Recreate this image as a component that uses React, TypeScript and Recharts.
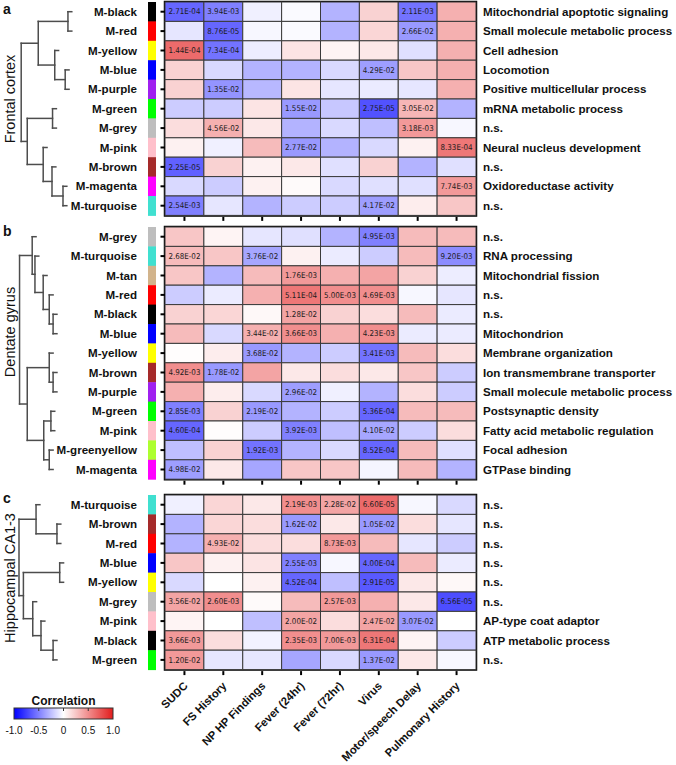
import React from 'react';
import { ScatterChart, Scatter, XAxis, YAxis, ReferenceArea, ReferenceLine } from 'recharts';

const traits = ['SUDC', 'FS History', 'NP HP Findings', 'Fever (24hr)', 'Fever (72hr)', 'Virus', 'Motor/speech Delay', 'Pulmonary History'];

const moduleColors: Record<string, string> = {
  'M-black': '#000000', 'M-red': '#ff0000', 'M-yellow': '#ffff00', 'M-blue': '#0000ff',
  'M-purple': '#a020f0', 'M-green': '#00ff00', 'M-grey': '#bebebe', 'M-pink': '#ffc0cb',
  'M-brown': '#a52a2a', 'M-magenta': '#ff00ff', 'M-turquoise': '#40e0d0', 'M-tan': '#d2b48c',
  'M-greenyellow': '#adff2f',
};

// (a) frontal cortex
const frontalModules = ['M-black', 'M-red', 'M-yellow', 'M-blue', 'M-purple', 'M-green', 'M-grey', 'M-pink', 'M-brown', 'M-magenta', 'M-turquoise'];
const frontalTerms = ['Mitochondrial apoptotic signaling', 'Small molecule metabolic process', 'Cell adhesion', 'Locomotion', 'Positive multicellular process', 'mRNA metabolic process', 'n.s.', 'Neural nucleus development', 'n.s.', 'Oxidoreductase activity', 'n.s.'];
const frontalCorr = [
  [-0.6, -0.5, -0.06, -0.02, -0.3, 0.2, -0.55, 0.35],
  [-0.1, -0.6, -0.03, -0.02, -0.3, 0.18, -0.4, 0.35],
  [0.65, -0.55, -0.07, 0.12, 0.05, 0.1, -0.12, 0.35],
  [0.2, -0.15, -0.3, -0.3, -0.15, -0.38, 0.25, 0.35],
  [0.2, -0.42, -0.28, 0.12, -0.1, -0.08, -0.1, 0.35],
  [-0.2, -0.2, 0.12, -0.4, -0.22, -0.68, 0.32, -0.3],
  [0.15, 0.35, 0.1, -0.3, -0.15, -0.25, 0.45, -0.03],
  [0.06, -0.06, 0.3, -0.4, -0.3, -0.15, 0.06, 0.6],
  [-0.62, 0.2, 0.06, 0.1, -0.12, 0.2, -0.3, -0.12],
  [-0.15, -0.2, 0.06, 0.02, -0.15, -0.12, -0.12, 0.45],
  [-0.5, -0.1, -0.3, -0.2, -0.2, -0.38, 0.08, 0.25],
];
const frontalP = [
  ['2.71E-04', '3.94E-03', '', '', '', '', '2.11E-03', ''],
  ['', '8.76E-05', '', '', '', '', '2.66E-02', ''],
  ['1.44E-04', '7.34E-04', '', '', '', '', '', ''],
  ['', '', '', '', '', '4.29E-02', '', ''],
  ['', '1.35E-02', '', '', '', '', '', ''],
  ['', '', '', '1.55E-02', '', '2.75E-05', '3.05E-02', ''],
  ['', '4.56E-02', '', '', '', '', '3.18E-03', ''],
  ['', '', '', '2.77E-02', '', '', '', '8.33E-04'],
  ['2.25E-05', '', '', '', '', '', '', ''],
  ['', '', '', '', '', '', '', '7.74E-03'],
  ['2.54E-03', '', '', '', '', '4.17E-02', '', ''],
];
const frontalTree: Tree = [0.96, [0.65, [0.11, 0, 1], [0.35, 2, [0.16, 3, 4]]], [0.85, [0.39, 5, 6], [0.56, 7, [0.4, 8, [0.2, 9, 10]]]]];

// (b) dentate gyrus
const dentateModules = ['M-grey', 'M-turquoise', 'M-tan', 'M-red', 'M-black', 'M-blue', 'M-yellow', 'M-brown', 'M-purple', 'M-green', 'M-pink', 'M-greenyellow', 'M-magenta'];
const dentateTerms = ['n.s.', 'RNA processing', 'Mitochondrial fission', 'n.s.', 'n.s.', 'Mitochondrion', 'Membrane organization', 'Ion transmembrane transporter', 'Small molecule metabolic process', 'Postsynaptic density', 'Fatty acid metabolic regulation', 'Focal adhesion', 'GTPase binding'];
const dentateCorr = [
  [0.25, 0.05, -0.1, -0.12, -0.3, -0.5, 0.3, 0.3],
  [0.3, 0.25, -0.35, 0.06, -0.08, -0.2, 0.3, -0.45],
  [0.25, -0.3, 0.3, 0.45, 0.35, 0.4, 0.2, -0.07],
  [-0.2, -0.08, 0.35, 0.6, 0.5, 0.5, -0.03, -0.1],
  [0.2, 0.18, 0.03, 0.4, 0.2, 0.15, 0.3, -0.08],
  [0.3, -0.15, 0.35, 0.5, 0.35, 0.5, -0.08, -0.08],
  [0.01, 0.08, -0.4, -0.3, -0.2, -0.55, 0.3, 0.15],
  [0.5, -0.4, 0.4, 0.1, 0.15, 0.1, 0.25, -0.2],
  [0.35, 0.08, -0.15, -0.38, -0.06, -0.3, 0.15, -0.2],
  [-0.5, 0.2, -0.4, -0.3, -0.2, -0.6, 0.3, 0.3],
  [-0.6, 0.01, -0.2, -0.5, -0.25, -0.35, -0.2, 0.15],
  [-0.25, 0.2, -0.55, -0.3, -0.15, -0.6, 0.3, -0.12],
  [-0.38, 0.1, -0.35, 0.25, 0.25, -0.04, 0.3, -0.3],
];
const dentateP = [
  ['', '', '', '', '', '4.95E-03', '', ''],
  ['2.68E-02', '', '3.76E-02', '', '', '', '', '9.20E-03'],
  ['', '', '', '1.76E-03', '', '', '', ''],
  ['', '', '', '5.11E-04', '5.00E-03', '4.69E-03', '', ''],
  ['', '', '', '1.28E-02', '', '', '', ''],
  ['', '', '3.44E-02', '3.66E-03', '', '4.23E-03', '', ''],
  ['', '', '3.68E-02', '', '', '3.41E-03', '', ''],
  ['4.92E-03', '1.78E-02', '', '', '', '', '', ''],
  ['', '', '', '2.96E-02', '', '', '', ''],
  ['2.85E-03', '', '2.19E-02', '', '', '5.36E-04', '', ''],
  ['4.60E-04', '', '', '3.92E-03', '', '4.10E-02', '', ''],
  ['', '', '1.92E-03', '', '', '8.52E-04', '', ''],
  ['4.98E-02', '', '', '', '', '', '', ''],
];
const dentateTree: Tree = [0.99, [0.76, 0, [0.71, 1, [0.56, 2, [0.45, 3, [0.38, 4, 5]]]]], [0.85, [0.45, 6, [0.38, 7, 8]], [0.55, [0.42, 9, 10], [0.45, 11, 12]]]];

// (c) hippocampal CA1-3
const hippoModules = ['M-turquoise', 'M-brown', 'M-red', 'M-blue', 'M-yellow', 'M-grey', 'M-pink', 'M-black', 'M-green'];
const hippoTerms = ['n.s.', 'n.s.', 'n.s.', 'n.s.', 'n.s.', 'n.s.', 'AP-type coat adaptor', 'ATP metabolic process', 'n.s.'];
const hippoCorr = [
  [-0.06, 0.18, 0.1, 0.5, 0.4, 0.65, -0.03, -0.15],
  [-0.3, 0.18, 0.15, -0.4, 0.1, -0.4, 0.15, -0.1],
  [-0.3, 0.35, 0.15, 0.15, 0.45, 0.3, -0.1, -0.2],
  [0.25, 0.06, 0.12, -0.5, -0.03, -0.6, 0.3, -0.08],
  [-0.15, 0.0, 0.06, -0.6, -0.25, -0.65, 0.1, 0.03],
  [0.4, 0.5, 0.02, 0.3, 0.45, 0.35, 0.1, -0.7],
  [0.05, 0.0, -0.25, 0.4, 0.15, 0.4, -0.4, 0.0],
  [0.45, 0.15, -0.05, 0.5, 0.45, 0.6, 0.05, -0.2],
  [0.45, -0.1, -0.1, -0.35, -0.15, -0.4, 0.1, -0.03],
];
const hippoP = [
  ['', '', '', '2.19E-03', '2.28E-02', '6.60E-05', '', ''],
  ['', '', '', '1.62E-02', '', '1.05E-02', '', ''],
  ['', '4.93E-02', '', '', '8.73E-03', '', '', ''],
  ['', '', '', '2.55E-03', '', '4.00E-04', '', ''],
  ['', '', '', '4.52E-04', '', '2.91E-05', '', ''],
  ['3.56E-02', '2.60E-03', '', '', '2.57E-03', '', '', '6.56E-05'],
  ['', '', '', '2.00E-02', '', '2.47E-02', '3.07E-02', ''],
  ['3.66E-03', '', '', '2.35E-03', '7.00E-03', '6.31E-04', '', ''],
  ['1.20E-02', '', '', '', '', '1.37E-02', '', ''],
];
const hippoTree: Tree = [1.0, [0.69, 0, [0.31, 1, 2]], [0.92, [0.26, 3, 4], [0.75, 5, [0.6, 6, [0.38, 7, 8]]]]];

const legendTicks = [-1, -0.5, 0, 0.5, 1];

type Tree = number | [number, Tree, Tree];

const FONT = '"Liberation Sans", Arial, Helvetica, sans-serif';
const CELL_FONT = '"DejaVu Sans Condensed", "Liberation Sans Narrow", "Liberation Sans", Arial, sans-serif';
const ROW_H = 19.4;
const PLOT_L = 165;
const PLOT_R = 476;
const COL_W = (PLOT_R - PLOT_L) / traits.length;
const STUB = 0.07;
const RED_END = [226, 28, 28];

function corrColor(v: number) {
  if (v < 0) {
    const t = Math.min(1, -v);
    const c = Math.round(255 * (1 - t));
    return `rgb(${c},${c},255)`;
  }
  const t = Math.min(1, v);
  const mix = (e: number) => Math.round(255 + (e - 255) * t);
  return `rgb(${mix(RED_END[0])},${mix(RED_END[1])},${mix(RED_END[2])})`;
}

function buildDendro(t: Tree, out: number[][]): { y: number; h: number } {
  if (typeof t === 'number') return { y: t + 0.5, h: -1 };
  const [h, a, b] = t;
  const A = buildDendro(a, out);
  const B = buildDendro(b, out);
  const ha = A.h < 0 ? h - STUB : A.h;
  const hb = B.h < 0 ? h - STUB : B.h;
  out.push([h, A.y, h, B.y]);
  out.push([h, A.y, ha, A.y]);
  out.push([h, B.y, hb, B.y]);
  return { y: (A.y + B.y) / 2, h };
}

const HeatCell = (props: any) => {
  const { cx, cy, payload } = props;
  return (
    <g>
      <rect x={cx - COL_W / 2} y={cy - ROW_H / 2} width={COL_W} height={ROW_H} fill={corrColor(payload.r)} stroke="#3a3a3a" strokeWidth={1} />
      {payload.p ? (
        <text x={cx} y={cy + 2.8} textAnchor="middle" fontSize={8} fontFamily={CELL_FONT} fill="#1c1c1c" textLength={32} lengthAdjust="spacingAndGlyphs">
          {payload.p}
        </text>
      ) : null}
    </g>
  );
};

function RowTick(props: any) {
  const { y, payload, modules, terms } = props;
  const i = Math.floor(payload.value);
  return (
    <g>
      <text x={137} y={y} dy={4.2} textAnchor="end" fontFamily={FONT} fontWeight="bold" fontSize={11.6} fill="#111">
        {modules[i]}
      </text>
      <rect x={148} y={y - ROW_H / 2} width={8} height={ROW_H + 0.5} fill={moduleColors[modules[i]]} />
      <line x1={160.5} x2={165} y1={y} y2={y} stroke="#000" strokeWidth={2} />
      <text x={483} y={y} dy={4.2} textAnchor="start" fontFamily={FONT} fontWeight="bold" fontSize={11.6} fill="#111">
        {terms[i]}
      </text>
    </g>
  );
}

function ColTick(props: any) {
  const { x, y, payload, showLabel } = props;
  const j = Math.floor(payload.value);
  const lx = x + 4;
  const ly = y + 17;
  return (
    <g>
      <line x1={x} x2={x} y1={y + 1.5} y2={y + 5.5} stroke="#000" strokeWidth={2} />
      {showLabel ? (
        <text x={lx} y={ly} transform={`rotate(-45 ${lx} ${ly})`} textAnchor="end" fontFamily={FONT} fontWeight="bold" fontSize={11.3} fill="#111">
          {traits[j]}
        </text>
      ) : null}
    </g>
  );
}

interface PanelProps {
  top: number;
  modules: string[];
  terms: string[];
  corr: number[][];
  pvals: string[][];
  tree: Tree;
  showLabels: boolean;
}

function HeatPanel({ top, modules, terms, corr, pvals, tree, showLabels }: PanelProps) {
  const n = modules.length;
  const mTop = 2;
  const mBottom = showLabels ? 95 : 8;
  const height = mTop + n * ROW_H + mBottom;
  const cells: { x: number; y: number; r: number; p: string }[] = [];
  corr.forEach((row, i) => row.forEach((r, j) => cells.push({ x: j + 0.5, y: i + 0.5, r, p: pvals[i][j] })));
  const rowTicks = modules.map((_, i) => i + 0.5);
  const colTicks = traits.map((_, j) => j + 0.5);
  const segs: number[][] = [];
  buildDendro(tree, segs);
  const leaves = modules.map((_, i) => ({ h: 0, y: i + 0.5 }));

  return (
    <>
      <div style={{ position: 'absolute', left: 0, top: top - mTop }}>
        <ScatterChart width={676} height={height} margin={{ top: mTop, right: 676 - PLOT_R, bottom: 0, left: 0 }}>
          <XAxis
            type="number"
            dataKey="x"
            domain={[0, traits.length]}
            ticks={colTicks}
            interval={0}
            axisLine={false}
            tickLine={false}
            tickSize={0}
            tickMargin={0}
            height={mBottom}
            tick={(p: any) => <ColTick {...p} showLabel={showLabels} />}
          />
          <YAxis
            yAxisId="l"
            type="number"
            dataKey="y"
            domain={[0, n]}
            reversed
            ticks={rowTicks}
            interval={0}
            axisLine={false}
            tickLine={false}
            tickSize={0}
            tickMargin={0}
            width={PLOT_L}
            tick={(p: any) => <RowTick {...p} modules={modules} terms={terms} />}
          />
          <Scatter yAxisId="l" data={cells} isAnimationActive={false} shape={HeatCell} />
          <ReferenceArea yAxisId="l" x1={0} x2={traits.length} y1={0} y2={n} fill="none" stroke="#000" strokeWidth={2.5} ifOverflow="visible" />
        </ScatterChart>
      </div>
      <div style={{ position: 'absolute', left: 0, top: top - mTop }}>
        <ScatterChart width={80} height={height} margin={{ top: mTop, right: 6, bottom: mBottom, left: 19 }}>
          <XAxis type="number" dataKey="h" domain={[0, 1]} reversed hide />
          <YAxis type="number" dataKey="y" domain={[0, n]} reversed hide />
          <Scatter data={leaves} isAnimationActive={false} shape={() => <g />} />
          {segs.map((s, k) => (
            <ReferenceLine
              key={k}
              segment={[{ x: s[0], y: s[1] }, { x: s[2], y: s[3] }]}
              stroke="#4d4d4d"
              strokeWidth={1.5}
              strokeLinecap="square"
              ifOverflow="visible"
            />
          ))}
        </ScatterChart>
      </div>
    </>
  );
}

function Overlay() {
  const barL = 14;
  const barR = 113;
  const pos = (v: number) => barL + ((v + 1) / 2) * (barR - barL);
  return (
    <svg width={676} height={765} style={{ position: 'absolute', left: 0, top: 0, pointerEvents: 'none' }}>
      <defs>
        <linearGradient id="corrGrad" x1="0" x2="1" y1="0" y2="0">
          <stop offset="0" stopColor={corrColor(-1)} />
          <stop offset="0.5" stopColor={corrColor(0)} />
          <stop offset="1" stopColor={corrColor(1)} />
        </linearGradient>
      </defs>
      <g fontFamily={FONT} fill="#111">
        <text x={3} y={14} fontWeight="bold" fontSize={14}>a</text>
        <text x={3} y={236} fontWeight="bold" fontSize={14}>b</text>
        <text x={3} y={503} fontWeight="bold" fontSize={14}>c</text>
        <text transform="translate(15,99) rotate(-90)" textAnchor="middle" fontSize={14.5}>Frontal cortex</text>
        <text transform="translate(15,332) rotate(-90)" textAnchor="middle" fontSize={14.5}>Dentate gyrus</text>
        <text transform="translate(15,578) rotate(-90)" textAnchor="middle" fontSize={14.5}>Hippocampal CA1-3</text>
        <text x={(barL + barR) / 2} y={705} textAnchor="middle" fontWeight="bold" fontSize={12}>Correlation</text>
        <rect x={barL} y={708} width={barR - barL} height={11} fill="url(#corrGrad)" stroke="#333" strokeWidth={1} />
        {legendTicks.map((v) => (
          <g key={v}>
            {v > -1 && v < 1 ? <line x1={pos(v)} x2={pos(v)} y1={708} y2={711} stroke="#333" strokeWidth={1} /> : null}
            <text x={pos(v)} y={734} textAnchor="middle" fontSize={10}>
              {v === 0 ? '0' : v.toFixed(1)}
            </text>
          </g>
        ))}
      </g>
    </svg>
  );
}

export default function App() {
  return (
    <div style={{ position: 'absolute', left: 0, top: 0, width: 676, height: 765, background: '#fff' }}>
      <Overlay />
      <HeatPanel top={2} modules={frontalModules} terms={frontalTerms} corr={frontalCorr} pvals={frontalP} tree={frontalTree} showLabels={false} />
      <HeatPanel top={227} modules={dentateModules} terms={dentateTerms} corr={dentateCorr} pvals={dentateP} tree={dentateTree} showLabels={false} />
      <HeatPanel top={495} modules={hippoModules} terms={hippoTerms} corr={hippoCorr} pvals={hippoP} tree={hippoTree} showLabels={true} />
    </div>
  );
}
